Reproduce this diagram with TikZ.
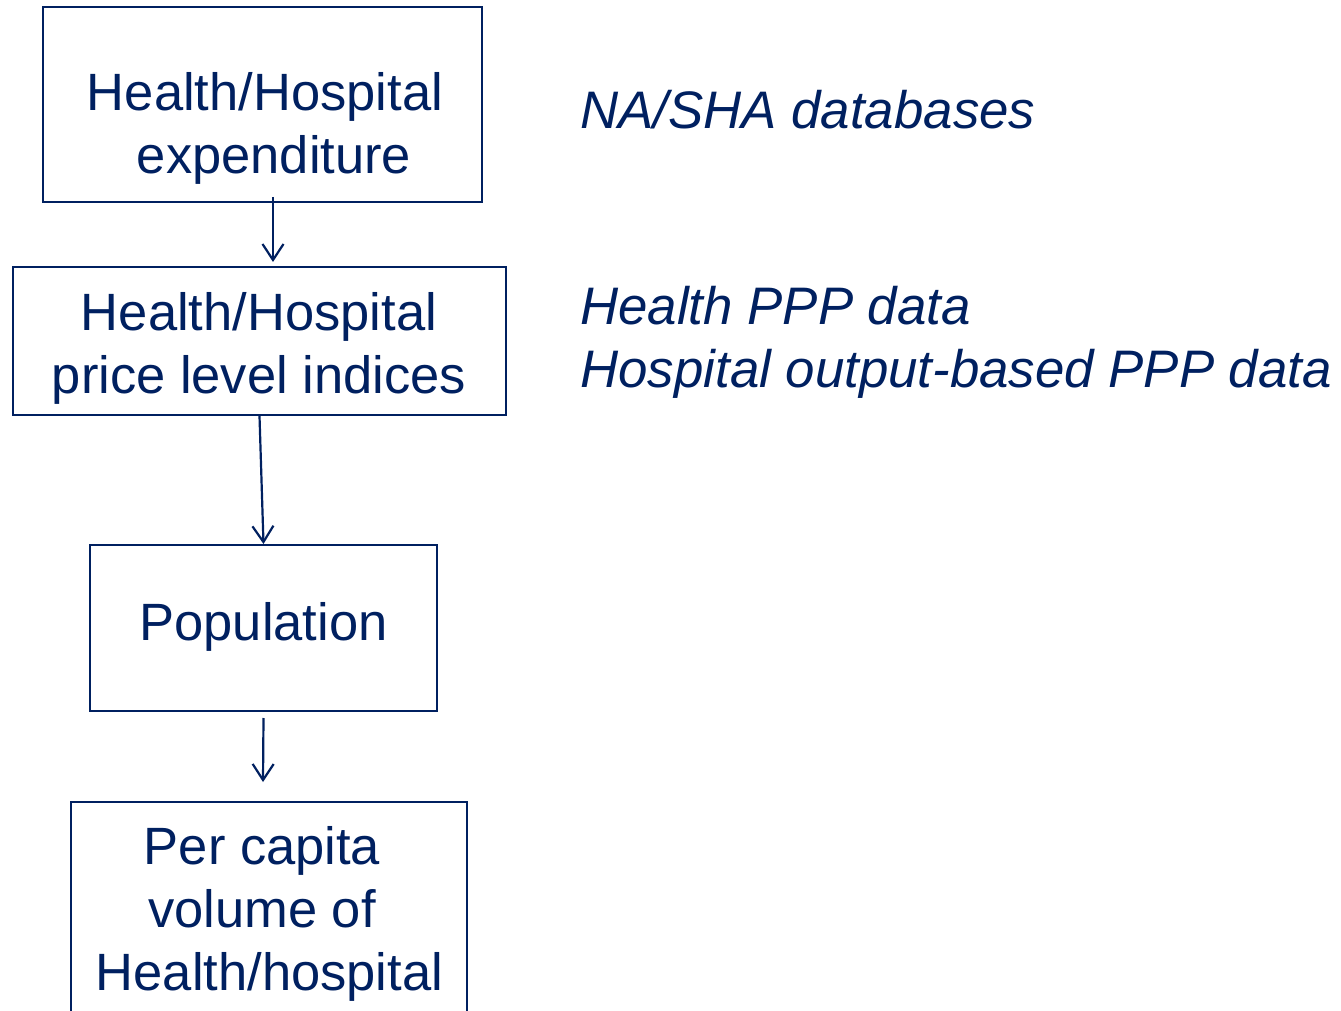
\documentclass[tikz,border=0pt]{standalone}
\usepackage{fontspec}
\setmainfont{Liberation Sans}
\usetikzlibrary{arrows.meta,calc}
\definecolor{navy}{RGB}{0,32,96}

\begin{document}
\begin{tikzpicture}[x=0.5pt,y=-0.5pt,
	every node/.style={text=navy,inner sep=0pt,align=center,
		font=\fontsize{26.25pt}{31.5pt}\selectfont},
	box/.style={draw=navy,line width=1pt},
	flow/.style={draw=navy,line width=1.1pt,-{Straight Barb[length=8pt,width=10.5pt]}},
	source/.style={anchor=west,align=left,
		font=\fontsize{26.4pt}{31.5pt}\selectfont\itshape}]
%
	\useasboundingbox (0,0) rectangle (1341,1011);
	\clip (0,0) rectangle (1341,1011);
%
	\node[box,minimum width=219.5pt,minimum height=97.5pt] (expbox) at (262.5,104.5) {};
	\node[box,minimum width=246.5pt,minimum height=74pt] (pricebox) at (259.5,341) {};
	\node[box,minimum width=173.5pt,minimum height=83pt] (popbox) at (263.5,628) {};
	\node[box,minimum width=198pt,minimum height=129pt] (percapbox) at (269,931) {};
%
	\node (exptext) at (265,128) {Health/Hospital\\\hspace*{9pt}expenditure};
	\node (pricetext) at (259,348) {Health/Hospital\\price level indices};
	\node (poptext) at (263.5,627) {Population};
	\node (percaptext) at (262,913.5) {Per capita\\volume of\\\hspace*{7.5pt}Health/hospital};
%
	\node[source] (shasrc) at (580,110) {NA/SHA databases};
	\node[source] (pppsrc) at (580,342) {Health PPP data\\Hospital output-based PPP data};
%
	\draw[flow] ($(expbox.south)+(10.5,-6)$) -- ($(pricebox.north)+(13.5,-4)$);
	\draw[flow] (pricebox.south) -- (popbox.north);
	\draw[flow] ($(popbox.south)+(0,6)$) -- ($(percapbox.north)+(-6,-19)$);
\end{tikzpicture}
\end{document}
